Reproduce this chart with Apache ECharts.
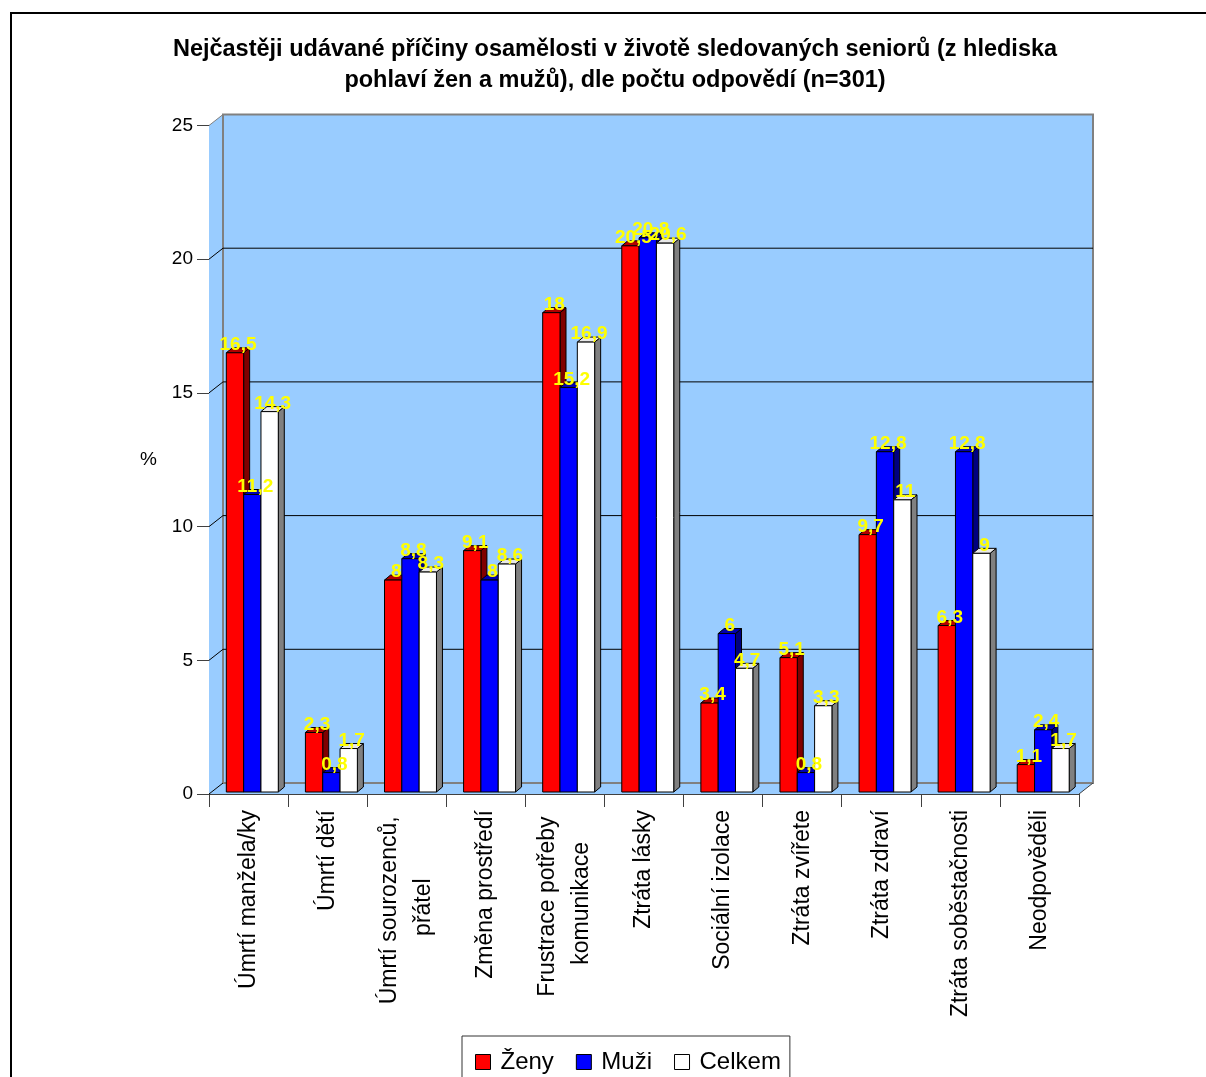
<!DOCTYPE html>
<html>
<head>
<meta charset="utf-8">
<title>Příčiny osamělosti seniorů</title>
<script src="https://cdn.jsdelivr.net/npm/echarts@6/dist/echarts.min.js"></script>
<style>
  html, body { margin: 0; padding: 0; background: #fff; }
  #chart { width: 1206px; height: 1077px; }
</style>
</head>
<body>
<div id="chart"></div>
<script>
// ---- data ----
const categories = [
  'Úmrtí manžela/ky',
  'Úmrtí dětí',
  'Úmrtí sourozenců,\npřátel',
  'Změna prostředí',
  'Frustrace potřeby\nkomunikace',
  'Ztráta lásky',
  'Sociální izolace',
  'Ztráta zvířete',
  'Ztráta zdraví',
  'Ztráta soběstačnosti',
  'Neodpověděli'
];
const seriesNames = ['Ženy', 'Muži', 'Celkem'];
const zeny   = [16.5, 2.3, 8,   9.1, 18,   20.5, 3.4, 5.1, 9.7,  6.3,  1.1];
const muzi   = [11.2, 0.8, 8.8, 8,   15.2, 20.8, 6,   0.8, 12.8, 12.8, 2.4];
const celkem = [14.3, 1.7, 8.3, 8.6, 16.9, 20.6, 4.7, 3.3, 11,   9,    1.7];
const yTicks = [0, 5, 10, 15, 20, 25];

const titleText = 'Nejčastěji udávané příčiny osamělosti v životě sledovaných seniorů (z hlediska\npohlaví žen a mužů), dle počtu odpovědí (n=301)';

// ---- style ----
const FONT = '"Liberation Sans", Arial, Helvetica, sans-serif';
const WALL_DX = 14, WALL_DY = -11;   // depth of the 3D box
const BAR_DX = 6, BAR_DY = -5;       // depth of each column
const WALL_FILL = '#99CCFF';
const AXIS_COLOR = '#404040';
const faces = [
  { front: '#FF0000', side: '#800000', top: '#B00000' },
  { front: '#0000FF', side: '#000080', top: '#0000B0' },
  { front: '#FFFFFF', side: '#808080', top: '#E8E8E8' }
];

const fmt = v => String(v).replace('.', ',');

// Back wall, side wall and floor of the 3D plot box
function renderWalls(params, api) {
  const cs = params.coordSys;
  const xl = cs.x, xr = cs.x + cs.width;
  const y0 = api.coord([0, yTicks[0]])[1];
  const yTop = api.coord([0, yTicks[yTicks.length - 1]])[1];
  const bx = xl + WALL_DX, bxr = xr + WALL_DX;
  const children = [];
  // side wall
  children.push({ type: 'polygon', shape: { points: [[xl, y0], [xl, yTop], [bx, yTop + WALL_DY], [bx, y0 + WALL_DY]] },
    style: { fill: WALL_FILL, stroke: null } });
  // floor
  children.push({ type: 'polygon', shape: { points: [[xl, y0], [bx, y0 + WALL_DY], [bxr, y0 + WALL_DY], [xr, y0]] },
    style: { fill: WALL_FILL, stroke: null } });
  // back wall
  children.push({ type: 'rect', shape: { x: bx, y: yTop + WALL_DY, width: xr - xl, height: y0 - yTop },
    style: { fill: WALL_FILL, stroke: '#808080', lineWidth: 2 } });
  // grid lines on back wall and on side wall
  yTicks.forEach((t, i) => {
    const y = api.coord([0, t])[1];
    if (i > 0 && i < yTicks.length - 1) {
      children.push({ type: 'line', shape: { x1: bx, y1: y + WALL_DY, x2: bxr, y2: y + WALL_DY },
        style: { stroke: '#000', lineWidth: 1 } });
    }
    children.push({ type: 'line', shape: { x1: xl, y1: y, x2: bx, y2: y + WALL_DY },
      style: { stroke: i === yTicks.length - 1 ? '#808080' : '#000', lineWidth: 1 } });
  });
  // floor right edge
  children.push({ type: 'line', shape: { x1: xr, y1: y0, x2: bxr, y2: y0 + WALL_DY },
    style: { stroke: AXIS_COLOR, lineWidth: 1 } });
  return { type: 'group', children };
}

// 3D column: front face, side face, top face and value label
function columnRenderer(si) {
  return function (params, api) {
    const idx = api.value(0), val = api.value(1);
    const topPt = api.coord([idx, val]);
    const basePt = api.coord([idx, 0]);
    const band = api.size([1, 0])[0];
    const w = band * 0.219;
    const x0 = topPt[0] - band / 2 + w * (1 + si);
    const x1 = x0 + w;
    const yt = topPt[1], yb = basePt[1] - 2;
    const c = faces[si];
    const z = si * 10;
    const line = { stroke: '#000', lineWidth: 1 };
    return {
      type: 'group',
      children: [
        { type: 'polygon', z2: z + 1,
          shape: { points: [[x1, yb], [x1 + BAR_DX, yb + BAR_DY], [x1 + BAR_DX, yt + BAR_DY], [x1, yt]] },
          style: Object.assign({ fill: c.side }, line) },
        { type: 'polygon', z2: z + 2,
          shape: { points: [[x0, yt], [x1, yt], [x1 + BAR_DX, yt + BAR_DY], [x0 + BAR_DX, yt + BAR_DY]] },
          style: Object.assign({ fill: c.top }, line) },
        { type: 'rect', z2: z + 3,
          shape: { x: x0, y: yt, width: w, height: yb - yt },
          style: Object.assign({ fill: c.front }, line) },
        { type: 'text', z2: 200,
          style: { text: fmt(val), x: (x0 + x1) / 2 + 3, y: yt - 8, align: 'center', verticalAlign: 'middle',
            fill: '#FFFF00', font: 'bold 19px ' + FONT } }
      ]
    };
  };
}

const seriesData = [zeny, muzi, celkem];

const chart = echarts.init(document.getElementById('chart'), null, { renderer: 'canvas' });

const option = {
  backgroundColor: '#fff',
  animation: false,
  title: {
    text: titleText,
    left: 615,
    top: 34,
    padding: 0,
    textAlign: 'center',
    textStyle: { fontFamily: FONT, fontSize: 23.5, fontWeight: 'bold', color: '#000', lineHeight: 31 }
  },
  grid: { left: 209, right: 127, top: 125.5, bottom: 283, containLabel: false },
  legend: {
    data: seriesNames,
    left: 462,
    top: 1036,
    icon: 'rect',
    itemWidth: 15,
    itemHeight: 15,
    itemGap: 22,
    padding: [11, 9, 14, 13],
    borderColor: '#333',
    borderWidth: 1,
    itemStyle: { borderColor: '#000', borderWidth: 1 },
    textStyle: { fontFamily: FONT, fontSize: 24, color: '#000', lineHeight: 30, padding: [0, 0, 0, 5] }
  },
  xAxis: {
    type: 'category',
    data: categories,
    axisLine: { show: true, lineStyle: { color: AXIS_COLOR, width: 1 } },
    axisTick: { show: true, interval: 0, length: 13, lineStyle: { color: AXIS_COLOR } },
    splitLine: { show: false },
    axisLabel: {
      interval: 0,
      rotate: 90,
      margin: 16,
      formatter: v => v.split('\n').map((s, i, a) => '{c|' + s + (i < a.length - 1 ? ' ' : '') + '}').join('\n'),
      rich: { c: { fontFamily: FONT, fontSize: 23, color: '#000', lineHeight: 34, align: 'center' } }
    }
  },
  yAxis: {
    type: 'value',
    min: 0,
    max: 25,
    interval: 5,
    name: '%',
    nameLocation: 'middle',
    nameRotate: 0,
    nameGap: 52,
    nameTextStyle: { fontFamily: FONT, fontSize: 19, color: '#000' },
    axisLine: { show: true, lineStyle: { color: AXIS_COLOR, width: 1 } },
    axisTick: { show: true, length: 12, lineStyle: { color: AXIS_COLOR } },
    splitLine: { show: false },
    axisLabel: { fontFamily: FONT, fontSize: 19, color: '#000', margin: 16 }
  },
  graphic: [{
    type: 'rect',
    left: 10, top: 12,
    shape: { width: 1220, height: 1100 },
    style: { fill: 'transparent', stroke: '#000', lineWidth: 2 },
    silent: true
  }],
  series: [
    {
      name: 'walls',
      type: 'custom',
      renderItem: renderWalls,
      data: [[0, 0]],
      z: 1,
      silent: true,
      clip: false
    }
  ].concat(seriesNames.map((name, si) => ({
    name,
    type: 'custom',
    renderItem: columnRenderer(si),
    data: seriesData[si].map((v, i) => [i, v]),
    encode: { x: 0, y: 1 },
    itemStyle: { color: faces[si].front, borderColor: '#000', borderWidth: 1 },
    z: 2,
    clip: false
  })))
};

chart.setOption(option);
</script>
</body>
</html>
